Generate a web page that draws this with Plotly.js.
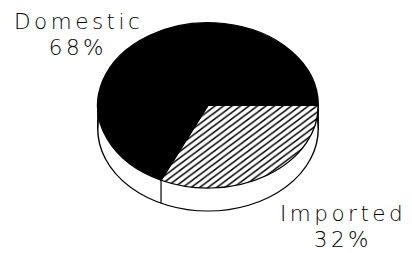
<!DOCTYPE html>
<html>
<head>
<meta charset="utf-8">
<script src="https://cdn.plot.ly/plotly-3.0.1.min.js"></script>
<style>
  html, body { margin: 0; padding: 0; background: #ffffff; }
  #wrap { position: relative; width: 412px; height: 253px; overflow: hidden; background: #fff; }
  #pie { position: absolute; left: 0; top: 0; width: 412px; height: 340px; transform-origin: 0 0; }
  #labels { position: absolute; left: 0; top: 0; width: 412px; height: 253px; pointer-events: none; }
  #labels text { letter-spacing: 3.5px; }
</style>
</head>
<body>
<div id="wrap">
  <div id="pie"></div>
  <div id="labels"></div>
</div>
<script>
// ---- data ----
var labels = ["Imported", "Domestic"];
var values = [32, 68];
var percentText = ["32%", "68%"];

// ---- geometry (screen px) ----
var W = 412, H = 253, PH = 340;
var cx = 208, cy = 105.4, rx = 110.3, ry = 82.7, depth = 23;
var sy = ry / rx;
document.getElementById('pie').style.transform = 'scaleY(' + sy + ')';

var cyU = cy / sy;               // unscaled centre of top face
var cyL = (cy + depth) / sy;     // unscaled centre of bottom face
function dom(cyu) {
  return {
    x: [(cx - rx) / W, (cx + rx) / W],
    y: [1 - (cyu + rx) / PH, 1 - (cyu - rx) / PH]
  };
}
var total = values.reduce(function (a, b) { return a + b; }, 0);

var sidePie = {
  type: 'pie', values: [total], labels: ['side'], sort: false,
  domain: dom(cyL), textinfo: 'none', hoverinfo: 'skip', showlegend: false,
  marker: { colors: ['#ffffff'], line: { color: '#000', width: 1.4 } }
};
var topPie = {
  type: 'pie', values: values, labels: labels, sort: false,
  direction: 'clockwise', rotation: 90,
  domain: dom(cyU), textinfo: 'none', hoverinfo: 'skip', showlegend: false,
  marker: {
    colors: ['#ffffff', '#000000'],
    line: { color: '#000', width: 1.4 },
    pattern: { shape: ['/', ''], fgcolor: '#000', bgcolor: '#fff', size: 6, solidity: 0.3 }
  }
};

// side edges (vertical lines) from the top face rim down to the bottom face rim
var theta = 2 * Math.PI * values[0] / total; // end of first slice, clockwise from 3 o'clock
function px2paper(xp, yp) { return [xp / W, 1 - yp / PH]; }
var edges = [
  [cx - rx, cyU], [cx + rx, cyU], [cx + rx * Math.cos(theta), cyU + rx * Math.sin(theta)]
];
var dU = depth / sy;
var shapes = edges.map(function (e) {
  var a = px2paper(e[0], e[1]), b = px2paper(e[0], e[1] + dU);
  return { type: 'line', xref: 'paper', yref: 'paper', x0: a[0], y0: a[1], x1: b[0], y1: b[1],
           line: { color: '#000', width: 1.2 }, layer: 'above' };
});

Plotly.newPlot('pie', [sidePie, topPie], {
  width: W, height: PH, margin: { l: 0, r: 0, t: 0, b: 0 },
  paper_bgcolor: 'rgba(0,0,0,0)', plot_bgcolor: 'rgba(0,0,0,0)',
  shapes: shapes, showlegend: false
}, { staticPlot: true, displayModeBar: false });

// ---- labels ----
var labelFont = { family: 'DejaVu Sans', size: 21.5, color: '#000', weight: 300 };
var labelPos = {
  Domestic: { x: 78, y1: 21.5, y2: 47.5 },
  Imported: { x: 343, y1: 213, y2: 239 }
};
var ann = [];
labels.forEach(function (lab, i) {
  var p = labelPos[lab];
  ann.push({ text: lab, x: p.x / W, y: 1 - p.y1 / H, xref: 'paper', yref: 'paper',
             xanchor: 'center', yanchor: 'middle', showarrow: false, font: labelFont });
  ann.push({ text: percentText[i], x: p.x / W, y: 1 - p.y2 / H, xref: 'paper', yref: 'paper',
             xanchor: 'center', yanchor: 'middle', showarrow: false, font: labelFont });
});
Plotly.newPlot('labels', [], {
  width: W, height: H, margin: { l: 0, r: 0, t: 0, b: 0 },
  paper_bgcolor: 'rgba(0,0,0,0)', plot_bgcolor: 'rgba(0,0,0,0)',
  xaxis: { visible: false }, yaxis: { visible: false },
  annotations: ann, showlegend: false
}, { staticPlot: true, displayModeBar: false });
</script>
</body>
</html>
